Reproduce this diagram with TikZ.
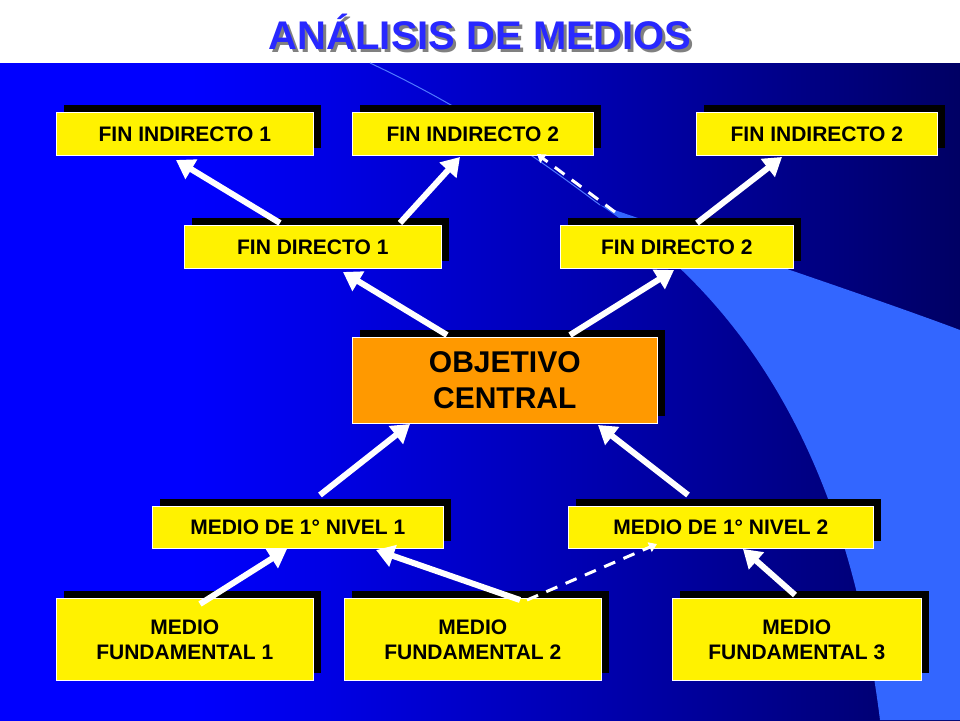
\documentclass[tikz,border=0pt]{standalone}
\usepackage{fontspec}
\setmainfont{Liberation Sans}
\usetikzlibrary{arrows.meta}
\definecolor{swoosh}{RGB}{51,102,255}
\definecolor{swline}{RGB}{80,120,255}
\definecolor{titleblue}{RGB}{40,40,255}
\definecolor{ocorange}{RGB}{255,153,0}
\pgfdeclarehorizontalshading{bgsh}{100bp}{color(0bp)=(blue); color(35bp)=(blue); color(65bp)=(blue!55!black); color(100bp)=(black)}
\begin{document}
\begin{tikzpicture}[x=1pt,y=-1pt,
  bx/.style={draw=white,line width=0.6pt,fill=yellow,font=\bfseries\fontsize{21}{25}\selectfont,align=center,inner sep=0pt,anchor=north west},
  sh/.style={fill=black},
  ar/.style={draw=white,line width=6pt,-{Triangle[width=22pt,length=18pt]}},
  da/.style={draw=white,line width=3pt,dash pattern=on 12pt off 9pt,-{Triangle[width=10pt,length=8pt]}}]
\useasboundingbox (0,0) rectangle (960,720);
\fill[white] (0,0) rectangle (960,720);
\shade[shading=bgsh] (0,63) rectangle (960,720);
\fill[swoosh] (600,205) .. controls (760,260) and (880,300) .. (960,330) -- (960,720) -- (880,720) .. controls (850,480) and (760,310) .. (600,205) -- cycle;
\draw[swline,line width=1pt] (370,63) .. controls (470,110) and (540,160) .. (600,205);
\node[font=\bfseries\fontsize{40}{44}\selectfont,text=black!50] at (483,35) {ANÁLISIS DE MEDIOS};
\node[font=\bfseries\fontsize{40}{44}\selectfont,text=titleblue] (title) at (480,32) {ANÁLISIS DE MEDIOS};
% boxes
\newcommand{\mybox}[6]{%
  \fill[sh] (#2+8,#3-7) rectangle (#4+8,#5-7);
  \node[bx,minimum width=#4-#2,minimum height=#5-#3] (#1) at (#2,#3) {#6};}
\mybox{fi1}{56}{112}{313}{155}{FIN INDIRECTO 1}
\mybox{fi2}{352}{112}{593}{155}{FIN INDIRECTO 2}
\mybox{fi3}{696}{112}{937}{155}{FIN INDIRECTO 2}
\mybox{fd1}{184}{225}{441}{268}{FIN DIRECTO 1}
\mybox{fd2}{560}{225}{793}{268}{FIN DIRECTO 2}
\fill[sh] (360,330) rectangle (665,416);
\node[bx,fill=ocorange,minimum width=305,minimum height=86,font=\bfseries\fontsize{30}{36}\selectfont] (oc) at (352,337) {OBJETIVO\\CENTRAL};
\mybox{m1}{152}{506}{443}{548}{MEDIO DE 1° NIVEL 1}
\mybox{m2}{568}{506}{873}{548}{MEDIO DE 1° NIVEL 2}
\mybox{mf1}{56}{598}{313}{680}{MEDIO\\FUNDAMENTAL 1}
\mybox{mf2}{344}{598}{601}{680}{MEDIO\\FUNDAMENTAL 2}
\mybox{mf3}{672}{598}{921}{680}{MEDIO\\FUNDAMENTAL 3}
% arrows
\draw[ar] (280,223) -- (176,160);
\draw[ar] (400,223) -- (460,157);
\draw[da] (615,212) -- (537,154);
\draw[ar] (697,223) -- (782,157);
\draw[ar] (447,335) -- (343,272);
\draw[ar] (570,335) -- (674,270);
\draw[ar] (320,495) -- (410,424);
\draw[ar] (688,495) -- (598,425);
\draw[ar] (200,604) -- (287,549);
\draw[ar] (520,600) -- (376,550);
\draw[da] (527,600) -- (657,544);
\draw[ar] (795,595) -- (743,549);
\end{tikzpicture}
\end{document}
